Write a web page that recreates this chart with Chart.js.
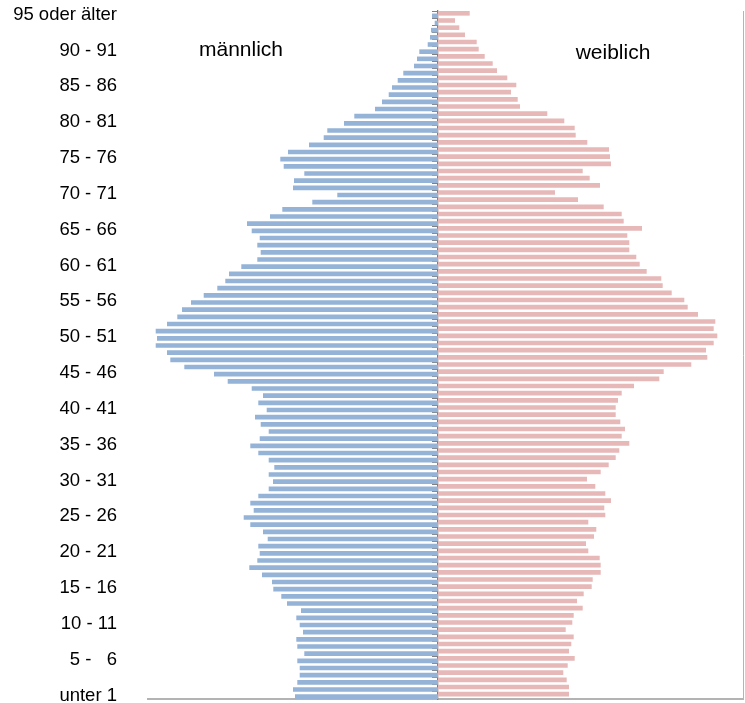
<!DOCTYPE html>
<html><head><meta charset="utf-8">
<script src="https://cdn.jsdelivr.net/npm/chart.js@4.4.1/dist/chart.umd.min.js"></script>
<style>html,body{margin:0;padding:0;background:#fff;} canvas{display:block;}</style>
</head><body>
<canvas id="c" width="745" height="703"></canvas>
<script>
// Altersgruppen (von unten nach oben)
const categories = [
  "unter 1","1 - 2","2 - 3","3 - 4","4 - 5","5 -   6","6 - 7","7 - 8","8 - 9","9 - 10",
  "10 - 11","11 - 12","12 - 13","13 - 14","14 - 15","15 - 16","16 - 17","17 - 18","18 - 19","19 - 20",
  "20 - 21","21 - 22","22 - 23","23 - 24","24 - 25","25 - 26","26 - 27","27 - 28","28 - 29","29 - 30",
  "30 - 31","31 - 32","32 - 33","33 - 34","34 - 35","35 - 36","36 - 37","37 - 38","38 - 39","39 - 40",
  "40 - 41","41 - 42","42 - 43","43 - 44","44 - 45","45 - 46","46 - 47","47 - 48","48 - 49","49 - 50",
  "50 - 51","51 - 52","52 - 53","53 - 54","54 - 55","55 - 56","56 - 57","57 - 58","58 - 59","59 - 60",
  "60 - 61","61 - 62","62 - 63","63 - 64","64 - 65","65 - 66","66 - 67","67 - 68","68 - 69","69 - 70",
  "70 - 71","71 - 72","72 - 73","73 - 74","74 - 75","75 - 76","76 - 77","77 - 78","78 - 79","79 - 80",
  "80 - 81","81 - 82","82 - 83","83 - 84","84 - 85","85 - 86","86 - 87","87 - 88","88 - 89","89 - 90",
  "90 - 91","91 - 92","92 - 93","93 - 94","94 - 95","95 oder älter"
];

// männlich (relative Werte)
const male = [
  143,145,140.7,138.3,138.3,140.7,133.7,140.7,141.7,135,
  138.3,141.7,137,151,156.7,164.7,166,176,188.7,180.7,
  178.3,179.7,170.3,175,187.7,194.3,184.3,187.7,179.7,169.3,
  165,169.3,163.7,169.3,179.7,187.7,178.3,169.3,177.3,183,
  171.3,179.7,175,186.3,210.3,224,253.7,267.7,271,282.3,
  281,282.3,271,260.7,256,247,234.3,220.7,212.7,209,
  196.7,180.7,177.3,180.7,178.3,186.3,191,168,155.7,125.7,
  100.7,145,144,133.7,154.3,157.7,150,129,114.3,110.7,
  94,83.7,63,56,49.3,46,40.3,34.7,24,21,
  18.7,10.3,8,7,3.3,6
];

// weiblich (relative Werte)
const female = [
  131,131,128.7,125.3,129.7,136.7,131,133.3,135.7,127.7,
  134.3,135.7,144.7,139,145.7,153.7,154.7,162.7,162.7,161.7,
  150.3,148,156,158.3,150.3,167.3,166.3,173,167.3,157.3,
  149,162.7,170.7,177.7,181.3,191.3,183.7,187,182.3,177.7,
  177.7,180,183.7,196,221.3,225.7,253.3,269.3,268,275.7,
  279.3,275.7,277.3,260,249.7,246.3,233.7,224.7,223.3,208.7,
  201.7,198.3,191.3,191.3,189.3,204,185.7,183.7,165.7,140,
  117,162,151.7,144.7,173,172,171,149.3,137.7,136.7,
  126.3,109.3,82,79.7,73,78.3,69.3,59,54.7,46.7,
  40.7,38.7,27,21.3,17,31.7
];

const labelStep = 5;
const FONT = '"Liberation Sans", Arial, sans-serif';

const sideTitles = {
  id: 'sideTitles',
  afterDraw(chart) {
    const {ctx, scales: {x}} = chart;
    ctx.save();
    ctx.font = '21px ' + FONT;
    ctx.fillStyle = '#000';
    ctx.textAlign = 'center';
    ctx.textBaseline = 'middle';
    ctx.fillText('männlich', x.getPixelForValue(-197), 50);
    ctx.fillText('weiblich', x.getPixelForValue(175), 53);
    ctx.restore();
  }
};

new Chart(document.getElementById('c'), {
  type: 'bar',
  data: {
    labels: categories,
    datasets: [
      { label: 'weiblich', data: female, backgroundColor: '#E6B9B8',
        xAxisID: 'x', yAxisID: 'y', categoryPercentage: 0.7, barPercentage: 1.84 },
      { label: 'männlich', data: male.map(v => -v), backgroundColor: '#95B3D7',
        xAxisID: 'x', yAxisID: 'y', categoryPercentage: 0.7, barPercentage: 1.84 }
    ]
  },
  options: {
    indexAxis: 'y',
    responsive: false,
    animation: false,
    devicePixelRatio: 1,
    layout: { padding: { top: 11, bottom: 4, left: 0, right: 2 } },
    plugins: { legend: { display: false }, tooltip: { enabled: false } },
    scales: {
      x: {
        type: 'linear', position: 'bottom', min: -290, max: 305,
        ticks: { display: false },
        grid: { display: false, drawTicks: false },
        border: { display: true, color: '#b3b3b3', width: 2 }
      },
      y: {
        type: 'category', position: 'left', reverse: true, offset: true,
        grid: { display: false, drawTicks: false },
        border: { display: false },
        ticks: {
          autoSkip: false, padding: 31, color: '#000',
          font: { size: 18.5, family: FONT },
          callback(val, idx) { return idx % labelStep === 0 ? this.getLabelForValue(val) : ''; }
        },
        afterFit(s) { s.width = 148; s.paddingTop = 0; s.paddingBottom = 0; }
      },
      yc: {
        type: 'category', position: { x: 0 }, reverse: true, offset: true,
        grid: { display: true, offset: true, drawOnChartArea: false, drawTicks: true, tickLength: 5, color: '#808080', lineWidth: 1 },
        border: { display: true, color: '#7f7f7f', width: 1.3 },
        ticks: { display: false }
      },
      yr: {
        type: 'category', position: 'right', offset: true,
        grid: { display: false, drawTicks: false },
        border: { display: true, color: '#a3b6d4', width: 1 },
        ticks: { display: false },
        afterFit(s) { s.paddingTop = 0; s.paddingBottom = 0; }
      }
    }
  },
  plugins: [sideTitles]
});
</script>
</body></html>
